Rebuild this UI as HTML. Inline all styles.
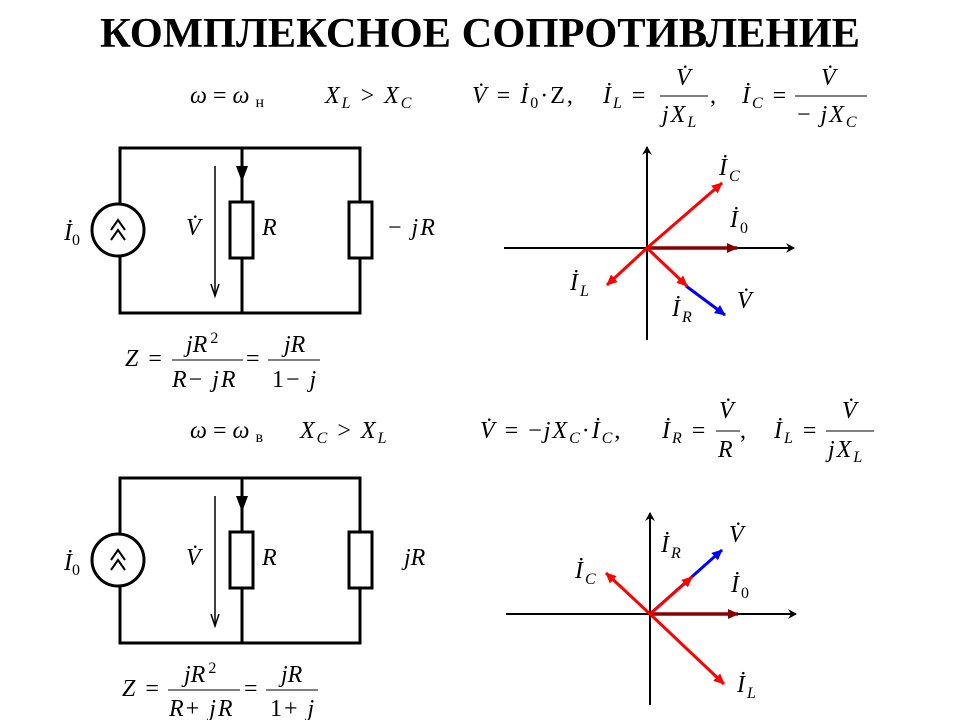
<!DOCTYPE html>
<html><head><meta charset="utf-8"><style>
html,body{margin:0;padding:0;background:#fff;}
svg{display:block;}
text{font-family:"Liberation Serif",serif;font-style:italic;font-size:24px;fill:#000;}
.n{font-style:normal;}
.s{font-size:16px;}
.f{letter-spacing:2px;}
</style></head><body>
<svg width="960" height="720" viewBox="0 0 960 720" xmlns="http://www.w3.org/2000/svg">
<defs>
<marker id="ab" markerWidth="10" markerHeight="10" refX="8" refY="5" orient="auto" markerUnits="userSpaceOnUse"><path d="M0,0 L9,5 L0,10 L3,5 Z" fill="#000"/></marker>
<marker id="ar" markerWidth="12" markerHeight="10" refX="10" refY="5" orient="auto" markerUnits="userSpaceOnUse"><path d="M0,0 L11,5 L0,10 Z" fill="#f00"/></marker>
<marker id="ad" markerWidth="12" markerHeight="10" refX="10" refY="5" orient="auto" markerUnits="userSpaceOnUse"><path d="M0,0 L11,5 L0,10 Z" fill="#800"/></marker>
<marker id="au" markerWidth="12" markerHeight="10" refX="10" refY="5" orient="auto" markerUnits="userSpaceOnUse"><path d="M0,0 L11,5 L0,10 Z" fill="#00f"/></marker>
<marker id="av" markerWidth="14" markerHeight="10" refX="12" refY="5" orient="auto" markerUnits="userSpaceOnUse"><path d="M0,1 L12,5 L0,9" fill="none" stroke="#000" stroke-width="1.5"/></marker>
</defs>

<text x="480" y="47" text-anchor="middle" class="n" style="font-weight:bold;font-size:42px" textLength="760" lengthAdjust="spacingAndGlyphs">КОМПЛЕКСНОЕ СОПРОТИВЛЕНИЕ</text>

<!-- top formulas -->
<text x="190" y="103">ω<tspan class="n"> = </tspan>ω<tspan class="n s" dx="6" dy="4">н</tspan></text>
<text x="325" y="103" class="f">X<tspan class="s" dy="5">L</tspan><tspan class="n" dy="-5"> &gt; </tspan>X<tspan class="s" dy="5">C</tspan></text>
<text x="472" y="103" class="f">V̇<tspan class="n"> = </tspan>İ<tspan class="n s" dy="5">0</tspan><tspan class="n" dy="-5">·Z,</tspan></text>
<text x="603" y="103" class="f">İ<tspan class="s" dy="5">L</tspan><tspan class="n" dy="-5"> =</tspan></text>
<text x="676" y="85">V̇</text><line x1="660" y1="96" x2="708" y2="96" stroke="#000" stroke-width="1"/><text x="662" y="122" class="f">jX<tspan class="s" dy="5">L</tspan></text><text x="710" y="103" class="n">,</text>
<text x="742" y="103" class="f">İ<tspan class="s" dy="5">C</tspan><tspan class="n" dy="-5"> =</tspan></text>
<text x="821" y="85">V̇</text><line x1="795" y1="96" x2="867" y2="96" stroke="#000" stroke-width="1"/><text x="797" y="122" class="f"><tspan class="n">− </tspan>jX<tspan class="s" dy="5">C</tspan></text>

<!-- top circuit -->
<g id="circ" fill="none" stroke="#000" stroke-width="3">
<rect x="120" y="148" width="240" height="165"/>
<line x1="242" y1="148" x2="242" y2="313"/>
<rect x="230" y="202" width="23" height="56" fill="#fff"/>
<rect x="349" y="202" width="23" height="56" fill="#fff"/>
<circle cx="118" cy="230" r="26" fill="#fff"/>
<path d="M111,230 L118,220 L125,230 M111,240 L118,230 L125,240" stroke-width="2"/>
<line x1="215" y1="166" x2="215" y2="296" stroke-width="1.5" marker-end="url(#av)"/>
<path d="M236,166 L248,166 L242,182 Z" fill="#000" stroke="none"/>
</g>
<text x="64" y="240">İ<tspan class="n s" dy="5">0</tspan></text>
<text x="186" y="235">V̇</text><text x="262" y="235">R</text><text x="388" y="235" class="f"><tspan class="n">− </tspan>jR</text>

<text x="125" y="366" class="f">Z<tspan class="n"> =</tspan></text>
<text x="186" y="352">jR<tspan class="n s" dy="-9" dx="3">2</tspan></text><line x1="172" y1="360" x2="243" y2="360" stroke="#000" stroke-width="1"/><text x="172" y="387" class="f">R<tspan class="n">− </tspan>jR</text>
<text x="246" y="366" class="n">=</text>
<text x="284" y="352">jR</text><line x1="268" y1="360" x2="320" y2="360" stroke="#000" stroke-width="1"/><text x="272" y="387" class="f"><tspan class="n">1− </tspan>j</text>

<!-- top vector diagram -->
<g stroke-width="3" fill="none">
<line x1="647" y1="340" x2="647" y2="147" stroke="#000" stroke-width="2" marker-end="url(#ab)"/>
<line x1="504" y1="248" x2="794" y2="248" stroke="#000" stroke-width="2" marker-end="url(#ab)"/>
<line x1="647" y1="248" x2="737" y2="248" stroke="#800" stroke-width="3.5" marker-end="url(#ad)"/>
<line x1="686" y1="286" x2="725" y2="315" stroke="#00f" marker-end="url(#au)"/>
<line x1="647" y1="248" x2="687" y2="286" stroke="#f00" marker-end="url(#ar)"/>
<line x1="647" y1="248" x2="722" y2="183" stroke="#f00" marker-end="url(#ar)"/>
<line x1="647" y1="248" x2="607" y2="285" stroke="#f00" marker-end="url(#ar)"/>
</g>
<text x="719" y="175" class="f">İ<tspan class="s" dy="6">C</tspan></text>
<text x="730" y="227" class="f">İ<tspan class="n s" dy="6">0</tspan></text>
<text x="570" y="290" class="f">İ<tspan class="s" dy="6">L</tspan></text>
<text x="672" y="316" class="f">İ<tspan class="s" dy="6">R</tspan></text>
<text x="737" y="308">V̇</text>

<!-- bottom formulas -->
<text x="190" y="438">ω<tspan class="n"> = </tspan>ω<tspan class="n s" dx="6" dy="4">в</tspan></text>
<text x="300" y="438" class="f">X<tspan class="s" dy="5">C</tspan><tspan class="n" dy="-5"> &gt; </tspan>X<tspan class="s" dy="5">L</tspan></text>
<text x="480" y="438" class="f">V̇<tspan class="n"> = −</tspan>jX<tspan class="s" dy="5">C</tspan><tspan class="n" dy="-5">·</tspan>İ<tspan class="s" dy="5">C</tspan><tspan class="n" dy="-5">,</tspan></text>
<text x="662" y="438" class="f">İ<tspan class="s" dy="5">R</tspan><tspan class="n" dy="-5"> =</tspan></text>
<text x="719" y="418">V̇</text><line x1="716" y1="431" x2="740" y2="431" stroke="#000" stroke-width="1"/><text x="718" y="457">R</text><text x="740" y="438" class="n">,</text>
<text x="774" y="438" class="f">İ<tspan class="s" dy="5">L</tspan><tspan class="n" dy="-5"> =</tspan></text>
<text x="842" y="418">V̇</text><line x1="826" y1="431" x2="874" y2="431" stroke="#000" stroke-width="1"/><text x="828" y="457" class="f">jX<tspan class="s" dy="5">L</tspan></text>

<!-- bottom circuit -->
<use href="#circ" transform="translate(0,330)"/>
<text x="64" y="570">İ<tspan class="n s" dy="5">0</tspan></text>
<text x="186" y="565">V̇</text><text x="262" y="565">R</text><text x="404" y="565">jR</text>

<text x="122" y="696" class="f">Z<tspan class="n"> =</tspan></text>
<text x="184" y="682">jR<tspan class="n s" dy="-9" dx="3">2</tspan></text><line x1="168" y1="690" x2="240" y2="690" stroke="#000" stroke-width="1"/><text x="169" y="716" class="f">R<tspan class="n">+ </tspan>jR</text>
<text x="244" y="696" class="n">=</text>
<text x="281" y="682">jR</text><line x1="266" y1="690" x2="318" y2="690" stroke="#000" stroke-width="1"/><text x="270" y="716" class="f"><tspan class="n">1+ </tspan>j</text>

<!-- bottom vector diagram -->
<g stroke-width="3" fill="none">
<line x1="650" y1="705" x2="650" y2="513" stroke="#000" stroke-width="2" marker-end="url(#ab)"/>
<line x1="506" y1="614" x2="796" y2="614" stroke="#000" stroke-width="2" marker-end="url(#ab)"/>
<line x1="650" y1="614" x2="738" y2="614" stroke="#800" stroke-width="3.5" marker-end="url(#ad)"/>
<line x1="650" y1="614" x2="722" y2="550" stroke="#00f" marker-end="url(#au)"/>
<line x1="650" y1="614" x2="692" y2="577" stroke="#f00" marker-end="url(#ar)"/>
<line x1="650" y1="614" x2="606" y2="573" stroke="#f00" marker-end="url(#ar)"/>
<line x1="650" y1="614" x2="724" y2="684" stroke="#f00" marker-end="url(#ar)"/>
</g>
<text x="661" y="552" class="f">İ<tspan class="s" dy="6">R</tspan></text>
<text x="729" y="542">V̇</text>
<text x="575" y="578" class="f">İ<tspan class="s" dy="6">C</tspan></text>
<text x="731" y="592" class="f">İ<tspan class="n s" dy="6">0</tspan></text>
<text x="737" y="692" class="f">İ<tspan class="s" dy="6">L</tspan></text>
</svg>
</body></html>
